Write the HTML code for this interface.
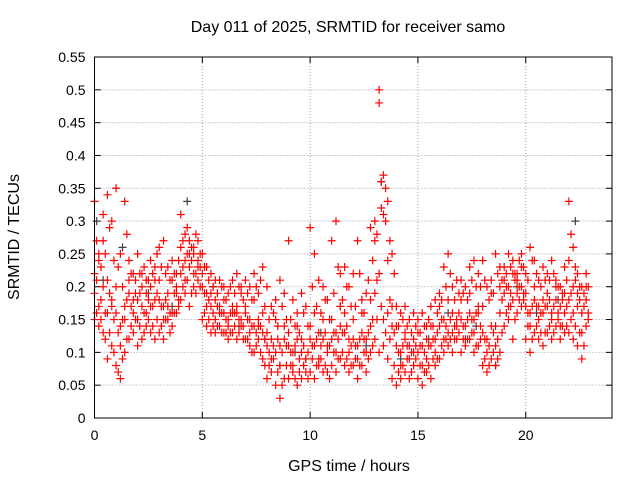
<!DOCTYPE html>
<html><head><meta charset="utf-8"><style>
body{margin:0;background:#fff}
svg{display:block;font-family:"Liberation Sans",sans-serif}
</style></head><body>
<svg id="chart" width="640" height="480" viewBox="0 0 640 480"></svg>
<script>
const times=[0,0.2,0.4,0.6,0.8,1,1.2,1.4,1.6,1.8,2,2.2,2.4,2.6,2.8,3,3.2,3.4,3.6,3.8,4,4.2,4.4,4.6,4.8,5,5.2,5.4,5.6,5.8,6,6.2,6.4,6.6,6.8,7,7.2,7.4,7.6,7.8,8,8.2,8.4,8.6,8.8,9,9.2,9.4,9.6,9.8,10,10.2,10.4,10.6,10.8,11,11.2,11.4,11.6,11.8,12,12.2,12.4,12.6,12.8,13,13.2,13.4,13.6,13.8,14,14.2,14.4,14.6,14.8,15,15.2,15.4,15.6,15.8,16,16.2,16.4,16.6,16.8,17,17.2,17.4,17.6,17.8,18,18.2,18.4,18.6,18.8,19,19.2,19.4,19.6,19.8,20,20.2,20.4,20.6,20.8,21,21.2,21.4,21.6,21.8,22,22.2,22.4,22.6,22.8];
const v1=[.19,.17,.20,.16,.18,.16,.14,.17,.19,.18,.18,.17,.19,.20,.18,.18,.17,.19,.16,.20,.22,.24,.23,.25,.24,.20,.19,.17,.18,.17,.16,.15,.17,.16,.15,.16,.15,.14,.15,.13,.11,.12,.10,.11,.12,.11,.10,.12,.10,.09,.12,.11,.13,.12,.10,.12,.13,.14,.13,.12,.12,.11,.13,.12,.14,.19,.22,.15,.16,.14,.11,.10,.12,.11,.10,.10,.11,.12,.11,.12,.14,.15,.13,.16,.15,.15,.14,.16,.15,.16,.13,.12,.14,.11,.16,.19,.20,.18,.21,.20,.17,.16,.18,.17,.16,.17,.16,.18,.17,.19,.18,.20,.17,.16,.18];
const v2=[.33,.25,.31,.34,.30,.35,.25,.33,.24,.22,.25,.22,.21,.24,.23,.26,.27,.23,.24,.22,.31,.28,.27,.26,.27,.25,.23,.22,.21,.21,.20,.19,.21,.22,.20,.21,.20,.22,.19,.23,.20,.17,.18,.21,.19,.27,.18,.16,.19,.17,.29,.25,.21,.20,.18,.27,.30,.22,.23,.20,.22,.27,.18,.19,.29,.30,.50,.37,.33,.25,.17,.16,.17,.15,.16,.15,.16,.14,.17,.18,.19,.23,.25,.20,.21,.21,.20,.23,.24,.22,.24,.20,.21,.25,.23,.23,.25,.24,.22,.25,.22,.26,.24,.21,.23,.22,.24,.21,.20,.23,.33,.26,.22,.20,.22];
const v3=[.15,.14,.13,.09,.11,.08,.06,.10,.12,.13,.11,.12,.14,.13,.12,.13,.12,.15,.14,.16,.18,.19,.17,.20,.21,.15,.14,.13,.13,.14,.13,.12,.13,.12,.14,.12,.11,.10,.12,.09,.06,.07,.05,.03,.06,.06,.07,.05,.06,.07,.07,.06,.08,.07,.07,.08,.07,.09,.08,.07,.08,.06,.08,.07,.10,.12,.10,.11,.09,.06,.05,.06,.07,.06,.08,.06,.05,.07,.06,.08,.09,.10,.11,.10,.12,.10,.11,.12,.10,.11,.08,.07,.09,.08,.10,.14,.15,.12,.16,.17,.12,.10,.13,.12,.11,.13,.12,.14,.12,.13,.13,.12,.11,.09,.14];
const v4=[.22,.24,.27,.21,.17,.20,.11,.15,.21,.16,.15,.20,.16,.17,.21,.21,.15,.17,.21,.19,.26,.21,.25,.22,.23,.22,.17,.19,.15,.16,.18,.14,.16,.17,.19,.17,.13,.18,.14,.16,.13,.09,.15,.08,.14,.13,.08,.14,.12,.09,.14,.16,.09,.15,.11,.15,.10,.17,.16,.10,.15,.09,.16,.10,.18,.27,.48,.31,.24,.17,.14,.08,.13,.09,.12,.13,.08,.09,.14,.10,.17,.12,.18,.13,.14,.18,.12,.19,.13,.17,.17,.10,.19,.14,.20,.21,.17,.22,.19,.23,.19,.14,.20,.15,.18,.19,.15,.20,.14,.16,.24,.16,.19,.13,.20];
const times2=[0.1,0.3,0.5,0.7,0.9,1.1,1.3,1.5,1.7,1.9,2.1,2.3,2.5,2.7,2.9,3.1,3.3,3.5,3.7,3.9,4.1,4.3,4.5,4.7,4.9,5.1,5.3,5.5,5.7,5.9,6.1,6.3,6.5,6.7,6.9,7.1,7.3,7.5,7.7,7.9,8.1,8.3,8.5,8.7,8.9,9.1,9.3,9.5,9.7,9.9,10.1,10.3,10.5,10.7,10.9,11.1,11.3,11.5,11.7,11.9,12.1,12.3,12.5,12.7,12.9,13.1,13.3,13.5,13.7,13.9,14.1,14.3,14.5,14.7,14.9,15.1,15.3,15.5,15.7,15.9,16.1,16.3,16.5,16.7,16.9,17.1,17.3,17.5,17.7,17.9,18.1,18.3,18.5,18.7,18.9,19.1,19.3,19.5,19.7,19.9,20.1,20.3,20.5,20.7,20.9,21.1,21.3,21.5,21.7,21.9,22.1,22.3,22.5,22.7,22.9];
const w1=[.21,.18,.16,.19,.15,.13,.15,.18,.17,.19,.19,.16,.18,.17,.19,.17,.18,.16,.19,.18,.23,.25,.24,.22,.23,.19,.18,.16,.17,.16,.15,.16,.16,.15,.14,.15,.14,.13,.14,.12,.10,.11,.12,.10,.11,.10,.11,.09,.11,.10,.11,.12,.11,.13,.11,.13,.12,.13,.14,.11,.11,.12,.12,.13,.15,.21,.32,.30,.18,.13,.10,.11,.11,.10,.11,.11,.10,.11,.12,.13,.15,.14,.15,.14,.16,.14,.15,.15,.16,.14,.12,.11,.13,.12,.18,.20,.19,.21,.20,.19,.16,.17,.17,.16,.17,.18,.17,.16,.18,.17,.19,.21,.18,.17,.16];
const w2=[.27,.23,.25,.29,.24,.23,.20,.28,.22,.21,.22,.23,.21,.22,.25,.23,.22,.21,.22,.24,.27,.29,.26,.28,.25,.23,.21,.20,.19,.20,.18,.20,.19,.20,.18,.19,.18,.20,.21,.17,.15,.16,.14,.17,.15,.15,.14,.13,.16,.14,.20,.17,.16,.18,.15,.19,.23,.18,.20,.17,.17,.22,.16,.21,.24,.28,.36,.35,.27,.22,.14,.15,.14,.13,.14,.13,.14,.15,.14,.16,.18,.20,.22,.18,.19,.19,.18,.21,.20,.20,.21,.18,.19,.22,.21,.22,.23,.22,.24,.23,.21,.24,.22,.20,.21,.21,.22,.20,.19,.21,.28,.23,.20,.19,.20];
const w3=[.16,.15,.12,.13,.10,.07,.09,.12,.14,.15,.14,.13,.15,.14,.15,.14,.15,.13,.16,.17,.20,.21,.19,.19,.20,.16,.15,.14,.14,.13,.13,.13,.14,.13,.12,.12,.10,.11,.10,.08,.08,.09,.07,.05,.08,.08,.06,.07,.08,.06,.09,.08,.09,.08,.06,.10,.09,.10,.09,.08,.09,.08,.10,.09,.11,.15,.17,.13,.12,.08,.07,.08,.09,.07,.09,.08,.07,.08,.09,.09,.11,.12,.12,.12,.13,.12,.12,.13,.11,.12,.09,.08,.10,.09,.13,.16,.17,.15,.18,.18,.14,.12,.14,.13,.13,.14,.13,.15,.14,.14,.15,.14,.13,.11,.15];
const blackT=[0.1,0.4,1.3,2.5,3.6,4.3,5.5,6.7,7.9,8.6,9.3,10.5,11.4,12.6,13.3,14.2,15.5,16.4,17.7,18.6,19.6,20.5,21.5,22.3];
const blackV=[.30,.21,.26,.19,.17,.33,.20,.14,.12,.08,.10,.13,.17,.11,.36,.09,.12,.16,.14,.08,.20,.16,.18,.30];
const xTicks=[0,5,10,15,20];
const yTicks=[0,0.05,0.1,0.15,0.2,0.25,0.3,0.35,0.4,0.45,0.5,0.55];

const L=94.5,R=612,T=57,B=418;
const sx=t=>L+(t/24)*(R-L);
const sy=v=>B-(v/0.55)*(B-T);
const svg=document.getElementById('chart');
const NS='http://www.w3.org/2000/svg';
function mk(tag,attrs,parent){const e=document.createElementNS(NS,tag);for(const k in attrs)e.setAttribute(k,attrs[k]);(parent||svg).appendChild(e);return e;}

const grid=mk('g',{});


xTicks.forEach(t=>{
  if(t>0){mk('line',{x1:sx(t),x2:sx(t),y1:T,y2:B,stroke:'#a0a0a0','stroke-dasharray':'1,2','stroke-width':1},grid);}
  const tk=mk('text',{x:sx(t),y:B+22,'text-anchor':'middle','font-size':14,fill:'#000'});
  tk.textContent=String(t);
  
  
  mk('line',{x1:sx(t),x2:sx(t),y1:B,y2:B-6,stroke:'#000'});
  mk('line',{x1:sx(t),x2:sx(t),y1:T,y2:T+6,stroke:'#000'});
});
yTicks.forEach(v=>{
  if(v>0&&v<0.55){mk('line',{x1:L,x2:R,y1:sy(v),y2:sy(v),stroke:'#a0a0a0','stroke-dasharray':'1,2','stroke-width':1},grid);}
  const tk=mk('text',{x:L-9,y:sy(v)+5,'text-anchor':'end','font-size':14,fill:'#000'});
  tk.textContent=String(v);
  
  
  mk('line',{x1:L,x2:L+6,y1:sy(v),y2:sy(v),stroke:'#000'});
  mk('line',{x1:R,x2:R-6,y1:sy(v),y2:sy(v),stroke:'#000'});
});

const pts=mk('g',{'stroke-width':1.2});


function plus(x,y,c,name){
  const p=mk('path',{d:`M${x-4},${y}h8M${x},${y-4}v8`,stroke:c},pts);
  
  
}
blackT.forEach((t,i)=>plus(sx(t),sy(blackV[i]),'#404040','black-point'));
[v1,v2,v3,v4].forEach(arr=>{
  times.forEach((t,i)=>plus(sx(t),sy(arr[i]),'#ff0000','red-point'));
});
[w1,w2,w3].forEach(arr=>{
  times2.forEach((t,i)=>plus(sx(t),sy(arr[i]),'#ff0000','red-point'));
});

const box=mk('rect',{x:L,y:T,width:R-L,height:B-T,fill:'none',stroke:'#000'});



const title=mk('text',{x:348,y:32,'text-anchor':'middle','font-size':16});
title.textContent='Day 011 of 2025, SRMTID for receiver samo';


const xl=mk('text',{x:349,y:471,'text-anchor':'middle','font-size':16});
xl.textContent='GPS time / hours';


const yl=mk('text',{x:0,y:0,'text-anchor':'middle','font-size':16,transform:'translate(19,237) rotate(-90)'});
yl.textContent='SRMTID / TECUs';


</script>
</body></html>
